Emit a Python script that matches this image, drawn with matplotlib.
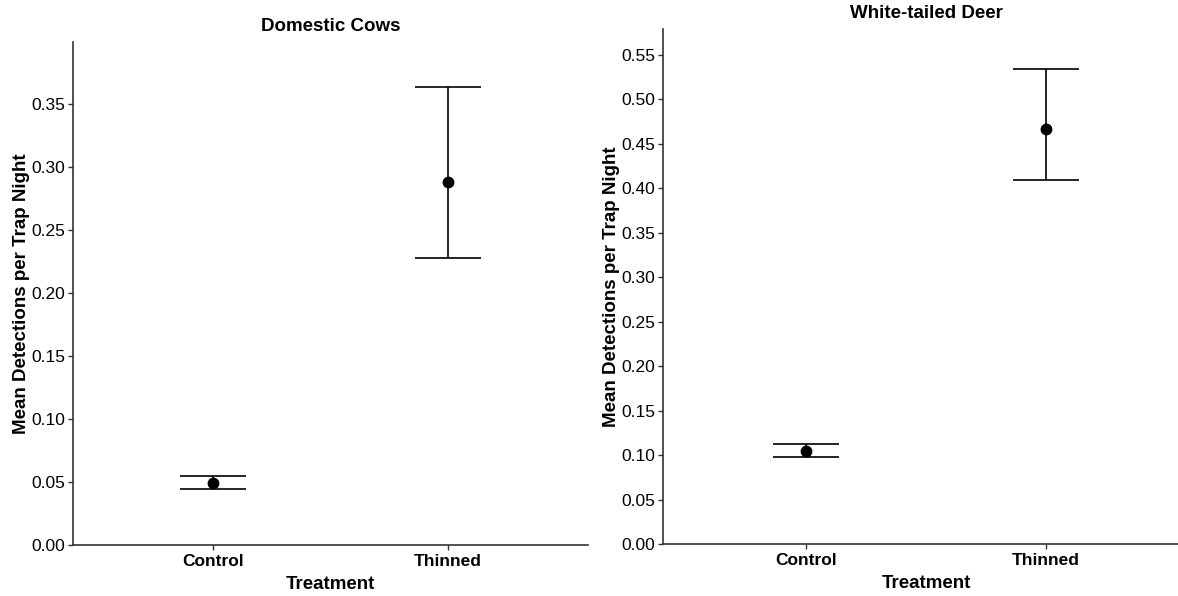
import matplotlib.pyplot as plt
from matplotlib.ticker import MultipleLocator

plt.rcParams['font.family'] = ['Liberation Sans', 'DejaVu Sans']

# Data
treatments = ['Control', 'Thinned']
cows_mean = [0.049, 0.288]
cows_lower = [0.0443, 0.228]
cows_upper = [0.0548, 0.363]
deer_mean = [0.105, 0.467]
deer_lower = [0.098, 0.409]
deer_upper = [0.112, 0.534]

panels = [
    ('Domestic Cows', cows_mean, cows_lower, cows_upper, 0.399, [0.062, 0.0856, 0.4372, 0.8439]),
    ('White-tailed Deer', deer_mean, deer_lower, deer_upper, 0.579, [0.5628, 0.0872, 0.4465, 0.8641]),
]

fig = plt.figure(figsize=(11.78, 5.96), dpi=100)

for title, mean, lower, upper, ytop, pos in panels:
    ax = fig.add_axes(pos)
    x = range(len(treatments))
    yerr = [[m - lo for m, lo in zip(mean, lower)],
            [up - m for m, up in zip(mean, upper)]]
    ax.errorbar(x, mean, yerr=yerr, fmt='none', ecolor='black',
                elinewidth=1.2, capsize=23.5, capthick=1.2, zorder=2)
    ax.plot(x, mean, 'o', color='black', markersize=7.5, zorder=3)

    ax.set_xlim(-0.6, 1.6)
    ax.set_ylim(0, ytop)
    ax.set_xticks(list(x))
    ax.set_xticklabels(treatments, fontsize=12.5, fontweight='bold')
    ax.yaxis.set_major_locator(MultipleLocator(0.05))
    ax.yaxis.set_major_formatter(lambda v, p: f'{v:.2f}')
    ax.tick_params(axis='y', labelsize=12.5, length=3.5, width=1, colors='#333333',
                   labelcolor='black', pad=2)
    ax.tick_params(axis='x', length=3.5, width=1, colors='#333333',
                   labelcolor='black', pad=3)

    for side in ('top', 'right'):
        ax.spines[side].set_visible(False)
    for side in ('left', 'bottom'):
        ax.spines[side].set_color('#333333')
        ax.spines[side].set_linewidth(1.2)

    ax.set_title(title, fontsize=13.5, fontweight='bold', pad=8)
    ax.set_xlabel('Treatment', fontsize=13.5, fontweight='bold', labelpad=5)
    ax.set_ylabel('Mean Detections per Trap Night', fontsize=13.5,
                  fontweight='bold', labelpad=1)

fig.savefig('out.png', dpi=100)
